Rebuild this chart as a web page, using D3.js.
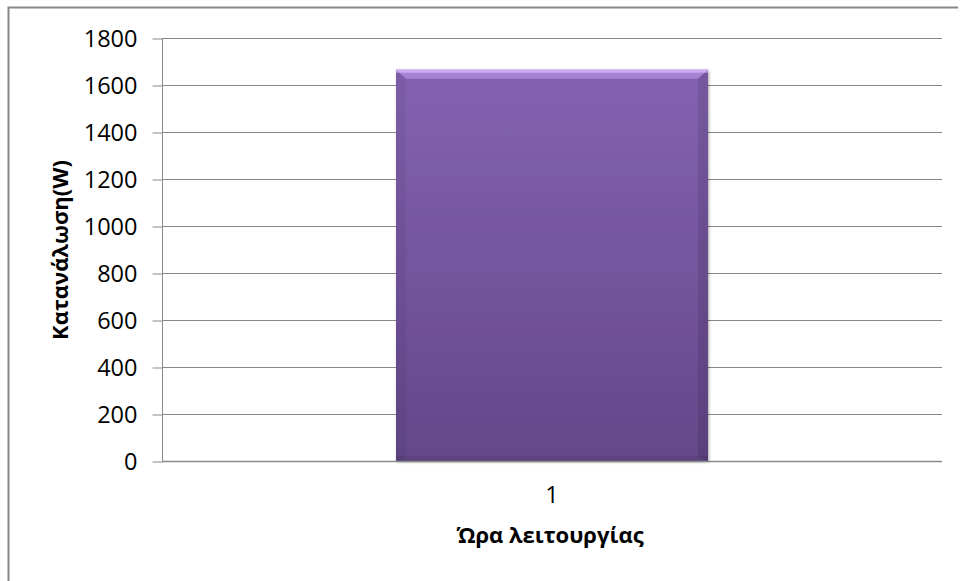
<!DOCTYPE html>
<html><head><meta charset="utf-8">
<script src="https://cdn.jsdelivr.net/npm/d3@7"></script>
<style>body{margin:0;background:#fff}svg{display:block}</style>
</head><body>
<script>
const categories = ["1"];
const values = [1665];
const yTicks = [0,200,400,600,800,1000,1200,1400,1600,1800];
const xTitle = "Ώρα λειτουργίας";
const yTitle = "Κατανάλωση(W)";

(function(){
const W = 961, H = 581;
const svg = d3.select("body").append("svg").attr("width", W).attr("height", H);
const font = "'Open Sans', 'Noto Sans', sans-serif";

// frame
svg.append("path").attr("d", `M8.5,${H} L8.5,7.5 L958,7.5`).attr("fill","none").attr("stroke","#888").attr("stroke-width",2);

const pL = 162, pR = 942, pT = 38, pB = 461;
const x = d3.scaleBand().domain(categories).range([pL, pR]).paddingInner(0).paddingOuter(0.75);
const y = d3.scaleLinear().domain([0, 1800]).range([pB, pT]);

const defs = svg.append("defs");
const g = defs.append("linearGradient").attr("id","barg").attr("x1",0).attr("y1",0).attr("x2",0).attr("y2",1);
g.append("stop").attr("offset","0%").attr("stop-color","#8562b1");
g.append("stop").attr("offset","100%").attr("stop-color","#64478a");
const f = defs.append("filter").attr("id","sh").attr("x","-5%").attr("y","-5%").attr("width","110%").attr("height","110%");
f.append("feDropShadow").attr("dx",1).attr("dy",1).attr("stdDeviation",1.5).attr("flood-color","#000").attr("flood-opacity",0.35);

// gridlines
svg.append("g").selectAll("line").data(yTicks.filter(d=>d>0)).join("line")
  .attr("x1", pL).attr("x2", pR).attr("y1", d=>y(d)+0.5).attr("y2", d=>y(d)+0.5)
  .attr("stroke","#898989").attr("stroke-width",1);

// y axis
const ya = svg.append("g").attr("transform",`translate(${pL+0.5},0.5)`)
  .call(d3.axisLeft(y).tickValues(yTicks).tickSize(10).tickPadding(15).tickFormat(d3.format("d")));
ya.attr("font-family",font).attr("font-size",23.5);
ya.select(".domain").attr("stroke","#898989").attr("d",`M0,${pT}V${pB}`);
ya.selectAll(".tick line").attr("stroke","#898989");
ya.selectAll("text").attr("fill","#000").attr("dy","0.36em");

// bars
const bars = svg.append("g");
categories.forEach((c,i)=>{
  const bx = x(c), bw = x.bandwidth(), by = y(values[i]), bh = y(0)-y(values[i]);
  bars.append("rect").attr("x",bx).attr("y",by).attr("width",bw).attr("height",bh)
    .attr("fill","url(#barg)").attr("filter","url(#sh)");
  bars.append("path").attr("d",`M${bx},${by} L${bx+bw},${by} L${bx+bw-10},${by+9} L${bx+10},${by+9} Z`)
    .attr("fill","#c8a6f5").attr("opacity",0.5);
  bars.append("rect").attr("x",bx).attr("y",by).attr("width",bw).attr("height",3).attr("fill","#d6b8ff").attr("opacity",0.75);
  bars.append("path").attr("d",`M${bx},${by} L${bx+10},${by+9} L${bx+10},${by+bh-4} L${bx},${by+bh} Z`).attr("fill","#000").attr("opacity",0.05);
  bars.append("path").attr("d",`M${bx+bw},${by} L${bx+bw-10},${by+9} L${bx+bw-10},${by+bh-4} L${bx+bw},${by+bh} Z`).attr("fill","#000").attr("opacity",0.1);
  bars.append("rect").attr("x",bx).attr("y",by+bh-5).attr("width",bw).attr("height",5).attr("fill","#000").attr("opacity",0.08);
});

// x axis baseline
svg.append("line").attr("x1",pL).attr("x2",pR).attr("y1",pB+0.5).attr("y2",pB+0.5)
  .attr("stroke","#898989").attr("stroke-width",1.5);

// x labels
svg.append("g").selectAll("text").data(categories).join("text")
  .attr("x", d=>x(d)+x.bandwidth()/2).attr("y", 503).attr("text-anchor","middle")
  .attr("font-family",font).attr("font-size",23.5).attr("fill","#000").text(d=>d);

// titles
svg.append("text").attr("x",(pL+pR)/2 - 2).attr("y",543).attr("text-anchor","middle")
  .attr("font-family",font).attr("font-size",22).attr("font-weight","bold").text(xTitle);
svg.append("text").attr("transform","translate(68,250) rotate(-90)").attr("text-anchor","middle")
  .attr("font-family",font).attr("font-size",22).attr("font-weight","bold").text(yTitle);
})();
</script>
</body></html>
